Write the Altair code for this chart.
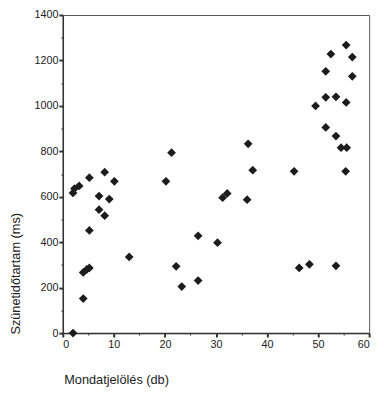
import altair as alt
import pandas as pd

mondatjeloles = [2, 2, 2.3, 3.2, 5.2, 8.2, 10.1, 7.1, 9.1, 7.1, 8.2, 5.2, 13, 4, 4.7, 5.2, 4,
                 20.2, 21.3, 22.2, 23.3, 26.5, 26.5, 30.3, 31.3, 32.2, 36.1, 36.3, 37.2,
                 45.3, 46.3, 48.3, 53.5, 49.5, 51.5, 53.5, 55.5, 51.5, 53.5, 54.5, 55.6,
                 55.4, 51.5, 52.5, 55.5, 56.7, 56.7]
szunetidotartam = [0, 617, 636, 648, 684, 708, 668, 603, 590, 543, 517, 452, 335, 267, 280, 287, 152,
                   668, 794, 294, 205, 428, 231, 398, 596, 615, 587, 833, 717,
                   712, 287, 303, 296, 1000, 1038, 1040, 1015, 905, 867, 816, 816,
                   712, 1152, 1228, 1268, 1215, 1130]

x_major = [0, 10, 20, 30, 40, 50, 60]
x_minor = [5, 15, 25, 35, 45, 55]
y_major = [0, 200, 400, 600, 800, 1000, 1200, 1400]
y_minor = [100, 300, 500, 700, 900, 1100, 1300]

df = pd.DataFrame({"x": mondatjeloles, "y": szunetidotartam})

xs = alt.Scale(domain=[0, 60], nice=False, zero=False)
ys = alt.Scale(domain=[0, 1400], nice=False)

base = alt.Chart(df)

points = base.mark_point(shape="diamond", filled=True, size=80, color="#1c1c1c", opacity=1).encode(
    x=alt.X("x:Q", scale=xs, axis=alt.Axis(
        values=x_major, format="d", title="Mondatjelölés (db)", tickSize=4, tickWidth=2,
        labelPadding=2, titleAnchor="start", titleAlign="left", titleX=1, titleY=47,
        titleBaseline="middle")),
    y=alt.Y("y:Q", scale=ys, axis=alt.Axis(
        values=y_major, format="d", title="Szünetidőtartam (ms)", tickSize=4, tickWidth=2,
        labelPadding=1, titleAngle=-90, titleAlign="left", titleBaseline="middle",
        titleX=-48, titleY=326)),
)

minor = base.mark_point(opacity=0).encode(
    x=alt.X("x:Q", scale=xs, axis=alt.Axis(
        values=x_minor, labels=False, title="", domain=False, tickSize=2, tickWidth=1, orient="bottom")),
    y=alt.Y("y:Q", scale=ys, axis=alt.Axis(
        values=y_minor, labels=False, title="", domain=False, tickSize=2, tickWidth=1, orient="left")),
)

chart = alt.layer(points, minor).resolve_axis(x="independent", y="independent").properties(
    width=313, height=325,
    autosize=alt.AutoSizeParams(type="none"),
    padding={"left": 56, "top": 3, "right": 7, "bottom": 56},
).configure_view(
    stroke="#555555", strokeWidth=1
).configure_axis(
    grid=False,
    domainColor="#333333", domainWidth=1.5,
    tickColor="#333333",
    labelFont="Liberation Sans", labelFontSize=11, labelColor="#222222",
    titleFont="Liberation Sans", titleFontSize=13, titleFontWeight="normal", titleColor="#222222",
)

chart.save("out.html", embed_options={"renderer": "svg", "actions": False})
